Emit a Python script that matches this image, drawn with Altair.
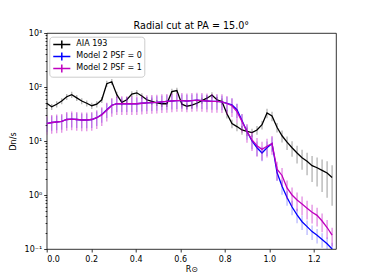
import altair as alt
import pandas as pd

# ---- data ----
R = [round(0.0225 * i, 4) for i in range(58)]

names = ["AIA 193", "Model 2 PSF = 0", "Model 2 PSF = 1"]

aia = [50, 43, 48, 55, 66, 72, 63, 55, 50, 45, 48, 58, 115, 125, 72, 52, 58, 74, 78, 68,
       58, 54, 51, 49, 49, 82, 86, 48, 44, 46, 50, 56, 62, 71, 58, 54, 32, 21, 18.5, 16,
       15, 14.3, 16, 20, 33, 29, 18, 12.5, 9.5, 7.5, 6.0, 4.9, 4.2, 3.5, 3.2, 2.85, 2.55, 2.1]
aia_rel = [0.13] * 36 + [0.18, 0.18, 0.18, 0.18, 0.18, 0.18, 0.18, 0.18,
                         0.2, 0.2, 0.2, 0.25, 0.28, 0.32, 0.36, 0.4, 0.45, 0.5,
                         0.55, 0.6, 0.65, 0.7]

psf0 = [21, 22, 22.5, 23, 25, 25.5, 25, 24.5, 24.5, 25, 27, 31, 38, 46, 49, 49, 49, 49, 49, 50,
        51, 51.5, 52, 53, 54, 55, 56, 56, 55, 56, 57, 56, 55, 54, 54, 53, 50, 47, 38, 24,
        15, 10, 7.5, 6.0, 7.5, 9.0, 2.6, 1.45, 0.9, 0.6, 0.43, 0.32, 0.26, 0.21, 0.18, 0.15, 0.125, 0.10]
psf0_rel = [0.3] * 58

psf1 = [21, 22, 22.5, 23, 25, 25.5, 25, 24.5, 24.5, 25, 27, 30.5, 37, 45.5, 49, 49, 49, 49, 49, 50,
        51, 51.5, 52, 53, 54, 55, 56, 56, 55, 56, 57, 56, 55, 54, 54, 53, 49.5, 45, 35, 23,
        15, 10.5, 8.2, 7.0, 8.0, 9.0, 3.0, 2.3, 1.35, 1.0, 0.81, 0.68, 0.57, 0.48, 0.42, 0.33, 0.25, 0.18]
psf1_rel = [0.38] * 58

x_ticks = [0.0, 0.2, 0.4, 0.6, 0.8, 1.0, 1.2]
y_major = [0.1, 1, 10, 100, 1000]
y_minor = [0.2, 0.3, 0.4, 0.5, 0.6, 0.7, 0.8, 0.9,
           2, 3, 4, 5, 6, 7, 8, 9,
           20, 30, 40, 50, 60, 70, 80, 90,
           200, 300, 400, 500, 600, 700, 800, 900]

line_colors = ["#000000", "#0000ff", "#bf00bf"]
bar_colors = ["#000000", "#0000ff", "#bf00bf"]
bar_opacity = [0.3, 0.28, 0.45]


def frame(name, vals, rel):
    return pd.DataFrame({
        "R": R,
        "v": vals,
        "lo": [v * (1 - r) for v, r in zip(vals, rel)],
        "hi": [v * (1 + r) for v, r in zip(vals, rel)],
        "series": name,
    })


frames = [frame(names[0], aia, aia_rel), frame(names[1], psf0, psf0_rel), frame(names[2], psf1, psf1_rel)]

FONT = "DejaVu Sans"
xscale = alt.Scale(domain=[0, 1.3], nice=False, zero=False)
yscale = alt.Scale(type="log", domain=[0.1, 1000], nice=False)
cscale = alt.Scale(domain=names, range=line_colors)

x_enc = alt.X("R:Q", scale=xscale,
              axis=alt.Axis(values=x_ticks, format=".1f", title="R⊙", titlePadding=2,
                            labelPadding=3, tickSize=3))

major_axis = alt.Axis(values=y_major, title="Dn/s", titlePadding=7, labelPadding=2, tickSize=3,
                      labelExpr="datum.value >= 999 ? '10³' : datum.value >= 99 ? '10²' : "
                                "datum.value >= 9 ? '10¹' : datum.value >= 0.9 ? '10⁰' : '10⁻¹'")
minor_axis = alt.Axis(values=y_minor, labels=False, title=None, tickSize=1.6, domain=False,
                      orient="left", grid=False)

layers = []
first = True
for k, df in enumerate(frames):
    bars = alt.Chart(df).mark_rule(strokeWidth=1.3, clip=True, opacity=bar_opacity[k],
                                   color=bar_colors[k]).encode(
        x=x_enc,
        y=alt.Y("lo:Q", scale=yscale, axis=major_axis if first else None),
        y2="hi:Q",
    )
    line = alt.Chart(df).mark_line(strokeWidth=1.3, clip=True).encode(
        x=x_enc,
        y=alt.Y("v:Q", scale=yscale, axis=minor_axis if first else None),
        color=alt.Color("series:N", scale=cscale,
                        legend=alt.Legend(title=None, orient="none", legendX=2.6, legendY=3.7)),
    )
    first = False
    layers += [bars, line]

chart = alt.layer(*layers).resolve_axis(y="independent").properties(
    width=289.3,
    height=216,
    autosize=alt.AutoSizeParams(type="none"),
    padding={"left": 38.7, "top": 25, "right": 30, "bottom": 28},
    title=alt.TitleParams("Radial cut at PA = 15.0°", font=FONT, fontSize=9.6,
                          fontWeight="normal", color="black", offset=-2, anchor="middle"),
).configure_view(
    stroke="black", strokeWidth=0.8
).configure_axis(
    grid=False, domain=False, tickColor="black", tickWidth=0.8,
    labelFont=FONT, labelFontSize=8, labelColor="black",
    titleFont=FONT, titleFontSize=8, titleFontWeight="normal", titleColor="black",
).configure_legend(
    symbolType="M-1.9,0H1.9M0,-0.9V0.9", symbolSize=81, symbolStrokeWidth=1.5,
    symbolOffset=5, labelOffset=9, labelFont=FONT, labelFontSize=8, labelColor="black",
    padding=2, rowPadding=0, clipHeight=11.5, strokeColor="#cccccc",
    fillColor="rgba(255,255,255,0.8)", cornerRadius=3,
)

chart.save("out.html", embed_options={"renderer": "svg", "actions": False})
